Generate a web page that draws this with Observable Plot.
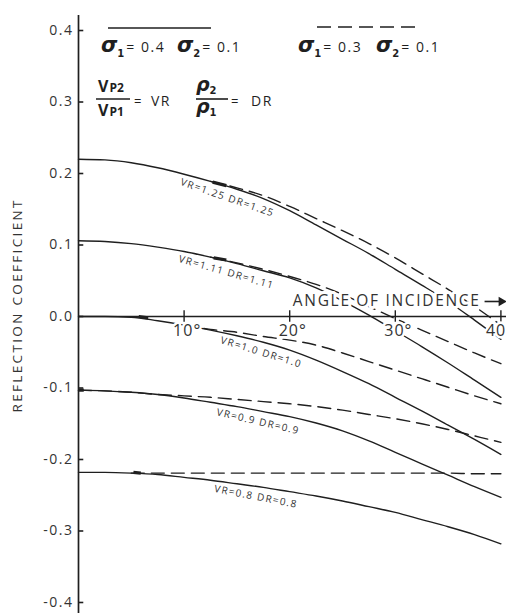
<!DOCTYPE html>
<html>
<head>
<meta charset="utf-8">
<script src="https://cdn.jsdelivr.net/npm/d3@7"></script>
<script src="https://cdn.jsdelivr.net/npm/@observablehq/plot@0.6"></script>
<style>
  html, body { margin: 0; padding: 0; background: #fff; }
  #chart svg { display: block; }
</style>
</head>
<body>
<div id="chart"></div>
<script>
const ink = "#1f1f1f";

// Axis ticks
const xTicks = [10, 20, 30, 40];
const xTickLabels = ["10°", "20°", "30°", "40"];
const yTicks = [-0.4, -0.3, -0.2, -0.1, 0, 0.1, 0.2, 0.3, 0.4];
const yTickLabels = ["-0.4", "-0.3", "-0.2", "-0.1", "0.0", "0.1", "0.2", "0.3", "0.4"];

// Curves: velocity ratio VR = Vp2/Vp1 and density ratio DR = rho2/rho1
const curveNames = ["VR=1.25 DR=1.25", "VR=1.11 DR=1.11", "VR=1.0 DR=1.0", "VR=0.9 DR=0.9", "VR=0.8 DR=0.8"];

// Angle of incidence (degrees)
const angles = [0, 2.5, 5, 7.5, 10, 12.5, 15, 17.5, 20, 22.5, 25, 27.5, 30, 32.5, 35, 37.5, 40];

// Solid curves: sigma1 = 0.4, sigma2 = 0.1
const solid125 = [0.220, 0.219, 0.215, 0.208, 0.199, 0.189, 0.178, 0.165, 0.148, 0.128, 0.108, 0.088, 0.066, 0.044, 0.021, -0.005, -0.032];
const solid111 = [0.106, 0.105, 0.102, 0.097, 0.091, 0.083, 0.074, 0.064, 0.054, 0.040, 0.022, 0.002, -0.020, -0.042, -0.065, -0.089, -0.113];
const solid100 = [0.000, 0.000, -0.001, -0.006, -0.012, -0.019, -0.027, -0.036, -0.047, -0.061, -0.077, -0.094, -0.113, -0.132, -0.152, -0.172, -0.193];
const solid090 = [-0.103, -0.104, -0.106, -0.109, -0.114, -0.120, -0.126, -0.133, -0.140, -0.149, -0.160, -0.174, -0.190, -0.206, -0.222, -0.238, -0.253];
const solid080 = [-0.218, -0.218, -0.219, -0.221, -0.225, -0.229, -0.234, -0.239, -0.245, -0.251, -0.258, -0.266, -0.274, -0.284, -0.294, -0.305, -0.318];

// Dashed curves: sigma1 = 0.3, sigma2 = 0.1 (each starts at its own angle)
const dashedStart = [12.5, 12.5, 10, 0, 5];
const dashed125 = [0.189, 0.180, 0.169, 0.154, 0.137, 0.120, 0.102, 0.082, 0.060, 0.038, 0.014, -0.012];
const dashed111 = [0.083, 0.075, 0.066, 0.056, 0.045, 0.031, 0.014, -0.003, -0.019, -0.035, -0.051, -0.066];
const dashed100 = [-0.012, -0.018, -0.022, -0.028, -0.033, -0.040, -0.051, -0.063, -0.075, -0.087, -0.099, -0.111, -0.122];
const dashed090 = [-0.103, -0.104, -0.106, -0.109, -0.111, -0.113, -0.116, -0.119, -0.122, -0.126, -0.131, -0.137, -0.143, -0.150, -0.158, -0.167, -0.176];
const dashed080 = [-0.219, -0.219, -0.219, -0.219, -0.219, -0.219, -0.219, -0.219, -0.219, -0.219, -0.219, -0.219, -0.219, -0.220, -0.220];

// Short heavy marks where the two families part
const markFrom = [12.7, 12.8, 5.7, 0.0, 5.2];
const markTo = [14.0, 14.0, 6.6, 0.5, 5.9];
const markFromR = [0.188, 0.082, 0.000, -0.103, -0.218];
const markToR = [0.183, 0.079, -0.002, -0.103, -0.219];

// Curve label anchors (angle, coefficient, rotation)
const labelAngle = [14.1, 14.0, 17.3, 17.0, 16.8];
const labelR = [0.166, 0.062, -0.050, -0.147, -0.252];
const labelRotate = [19, 16, 17, 13, 11];

// Legend text
const legendSigma1 = ["0.4", "0.3"];
const legendSigma2 = ["0.1", "0.1"];

const solidSeries = [solid125, solid111, solid100, solid090, solid080];
const dashedSeries = [dashed125, dashed111, dashed100, dashed090, dashed080];

const solidRows = solidSeries.flatMap((vals, k) =>
  vals.map((r, i) => ({angle: angles[i], r, curve: curveNames[k]})));
const dashedRows = dashedSeries.flatMap((vals, k) => {
  const a = angles.filter(d => d >= dashedStart[k]);
  return vals.map((r, i) => ({angle: a[i], r, curve: curveNames[k]}));
});
const marks = curveNames.map((c, k) => ({
  x1: markFrom[k], x2: markTo[k], y1: markFromR[k], y2: markToR[k]
}));
const labels = curveNames.map((c, k) => ({
  text: c, angle: labelAngle[k], r: labelR[k], rotate: labelRotate[k]
}));

const font = "'Open Sans', 'Noto Sans', sans-serif";

const plot = Plot.plot({
  width: 506,
  height: 613,
  marginLeft: 78,
  marginRight: 0,
  marginTop: 15,
  marginBottom: 0,
  x: {domain: [0, 40.53], axis: null},
  y: {domain: [-0.4154, 0.421], axis: null},
  style: {fontFamily: font, color: ink, background: "white"},
  marks: [
    // axes
    Plot.ruleX([0], {stroke: ink, strokeWidth: 1.7}),
    Plot.ruleY([0], {stroke: ink, strokeWidth: 1.6}),
    Plot.ruleY(yTicks, {y: d => d, x1: 0, x2: 0.5, stroke: ink, strokeWidth: 1.6}),
    Plot.ruleX(xTicks, {x: d => d, y1: -0.008, y2: 0.008, stroke: ink, strokeWidth: 1.4}),
    Plot.text(yTicks, {
      y: d => d, frameAnchor: "left", dx: -5, textAnchor: "end",
      text: (d, i) => yTickLabels[i], fontSize: 14, fill: "#333"
    }),

    // curves
    Plot.line(solidRows, {
      x: "angle", y: "r", z: "curve", curve: "monotone-x",
      stroke: ink, strokeWidth: 1.4
    }),
    Plot.line(dashedRows, {
      x: "angle", y: "r", z: "curve", curve: "monotone-x",
      stroke: ink, strokeWidth: 1.4, strokeDasharray: "13,7"
    }),
    Plot.link(marks, {x1: "x1", x2: "x2", y1: "y1", y2: "y2", stroke: ink, strokeWidth: 3.2}),

    // curve labels
    Plot.text(labels, {
      x: "angle", y: "r", text: "text", rotate: "rotate",
      fontSize: 10, fill: "#333"
    }),

    // x tick labels and axis title sit over the curves
    Plot.text(xTicks, {
      x: d => d, y: 0, dy: 14, dx: -11, textAnchor: "start",
      text: (d, i) => xTickLabels[i], fontSize: 16, fill: "#333",
      stroke: "white", strokeWidth: 5, paintOrder: "stroke"
    }),
    Plot.text(["ANGLE OF INCIDENCE"], {
      x: 20.3, y: 0, dy: -15, textAnchor: "start", text: d => d,
      fontSize: 15.5, fill: "#333",
      stroke: "white", strokeWidth: 6, paintOrder: "stroke"
    }),
    Plot.ruleY([0.021], {x1: 38.5, x2: 39.9, stroke: ink, strokeWidth: 1.6}),
    Plot.dot([0.021], {x: 40.05, y: d => d, symbol: "triangle", r: 3.6, rotate: 90, fill: ink, stroke: "none"}),

    // y axis title
    Plot.text(["REFLECTION COEFFICIENT"], {
      y: 0, frameAnchor: "left", dx: -61, dy: -10, rotate: -90, text: d => d,
      textAnchor: "middle", fontSize: 13.5, fill: "#333"
    })
  ]
});

document.getElementById("chart").appendChild(plot);

// Letter spacing of the drafting lettering, per text mark
const textGroups = d3.select(plot).selectAll('g[aria-label="text"]').nodes();
d3.select(textGroups[0]).style("letter-spacing", "1.5px");
d3.select(textGroups[1]).style("letter-spacing", "1.3px");
d3.select(textGroups[2]).style("letter-spacing", "1px")
  .selectAll("text").attr("dx", (d, i) => (i === xTicks.length - 1 ? -4 : 0));
d3.select(textGroups[3]).selectAll("text")
  .attr("textLength", 186).attr("lengthAdjust", "spacing");
d3.select(textGroups[4]).selectAll("text")
  .attr("textLength", 212).attr("lengthAdjust", "spacing");

// Legend block and ratio definitions
const svg = d3.select(plot);
const g = svg.append("g").attr("fill", ink).attr("font-family", font).attr("text-anchor", "start");
const symFont = "'DejaVu Sans', sans-serif";

g.append("line").attr("x1", 108).attr("x2", 211).attr("y1", 28).attr("y2", 28)
  .attr("stroke", ink).attr("stroke-width", 1.5);
g.append("line").attr("x1", 317).attr("x2", 417).attr("y1", 27).attr("y2", 27)
  .attr("stroke", ink).attr("stroke-width", 1.5).attr("stroke-dasharray", "14,7");

function sigma(x, y, sub, value) {
  const t = g.append("text").attr("x", x).attr("y", y);
  t.append("tspan").attr("font-family", symFont).attr("font-size", 21)
    .attr("font-weight", "bold").attr("font-style", "italic").text("σ");
  t.append("tspan").attr("font-family", symFont).attr("font-size", 10)
    .attr("font-weight", "bold").attr("dy", 5).text(sub);
  t.append("tspan").attr("font-size", 14).attr("dy", -5).attr("dx", 2)
    .attr("letter-spacing", "1.5px").text("= " + value);
}
sigma(101, 52, "1", legendSigma1[0]);
sigma(177, 52, "2", legendSigma2[0]);
sigma(298, 52, "1", legendSigma1[1]);
sigma(376, 52, "2", legendSigma2[1]);

function vFrac(x, y, sub) {
  const t = g.append("text").attr("x", x).attr("y", y).attr("font-weight", "bold");
  t.append("tspan").attr("font-size", 16).text("V");
  t.append("tspan").attr("font-size", 12).attr("dx", 1).text("P" + sub);
}
vFrac(98, 92, "2");
vFrac(98, 116, "1");
g.append("line").attr("x1", 96).attr("x2", 130).attr("y1", 99).attr("y2", 99)
  .attr("stroke", ink).attr("stroke-width", 1.6);
g.append("text").attr("x", 134).attr("y", 106).attr("font-size", 13).text("=");
g.append("text").attr("x", 151).attr("y", 106).attr("font-size", 14)
  .attr("letter-spacing", "1.5px").text("VR");

function rho(x, y, sub) {
  const t = g.append("text").attr("x", x).attr("y", y);
  t.append("tspan").attr("font-family", symFont).attr("font-size", 19)
    .attr("font-weight", "bold").attr("font-style", "italic").text("ρ");
  t.append("tspan").attr("font-family", symFont).attr("font-size", 10)
    .attr("font-weight", "bold").attr("dy", 3).text(sub);
}
rho(196, 91, "2");
rho(196, 113, "1");
g.append("line").attr("x1", 196).attr("x2", 228).attr("y1", 99).attr("y2", 99)
  .attr("stroke", ink).attr("stroke-width", 1.6);
g.append("text").attr("x", 231).attr("y", 106).attr("font-size", 13).text("=");
g.append("text").attr("x", 251).attr("y", 106).attr("font-size", 14)
  .attr("letter-spacing", "1.5px").text("DR");
</script>
</body>
</html>
